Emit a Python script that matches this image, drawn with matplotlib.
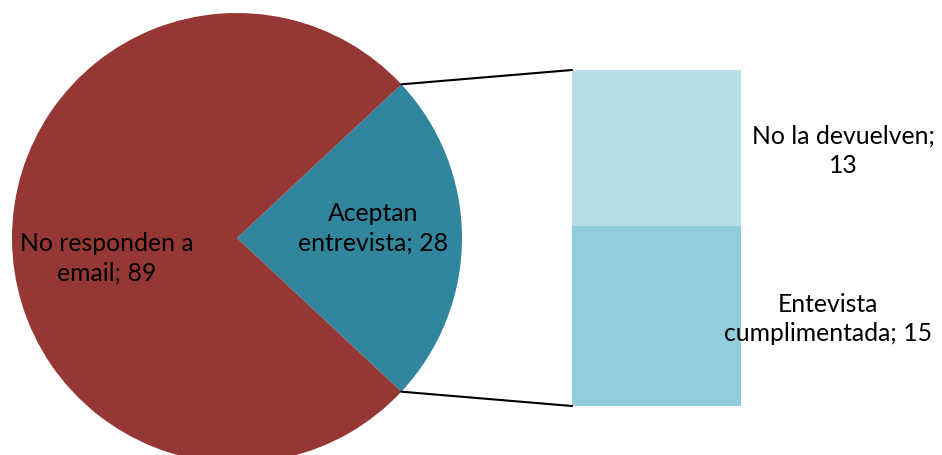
import matplotlib
matplotlib.use("Agg")
import matplotlib.pyplot as plt
from matplotlib.patches import ConnectionPatch
import numpy as np

plt.rcParams['font.family'] = ['Lato', 'DejaVu Sans']
fs = 17.8
ls = 1.35

# pie data
pie_labels = ['Aceptan\nentrevista; 28', 'No responden a\nemail; 89']
pie_values = [28, 89]
pie_colors = ['#31859C', '#953735']

# bar data (breakdown of "Aceptan entrevista")
bar_labels = ['Entevista\ncumplimentada; 15', 'No la devuelven;\n13']
bar_values = [15, 13]
bar_colors = ['#92CDDC', '#B7DEE8']

W, H = 942, 455
fig = plt.figure(figsize=(W / 100, H / 100), dpi=100)

# pie axes: square, 450px, centered at (237, 238) px from top-left
r_px = 225
cx, cy = 237, 238
ax1 = fig.add_axes([(cx - r_px) / W, (H - cy - r_px) / H, 2 * r_px / W, 2 * r_px / H])
half = 360 * pie_values[0] / sum(pie_values) / 2
wedges, _ = ax1.pie(pie_values, colors=pie_colors, startangle=-half, radius=1,
                    wedgeprops=dict(linewidth=0))
ax1.set_xlim(-1, 1)
ax1.set_ylim(-1, 1)
ax1.axis('off')
ax1.text(0.604, 0.044, pie_labels[0], ha='center', va='center', fontsize=fs, linespacing=ls)
ax1.text(-0.578, -0.089, pie_labels[1], ha='center', va='center', fontsize=fs, linespacing=ls)

# bar axes
bx0, bx1, by0, by1 = 572, 741, 70, 406
ax2 = fig.add_axes([bx0 / W, (H - by1) / H, (bx1 - bx0) / W, (by1 - by0) / H])
bottom = 0
for v, c in zip(bar_values, bar_colors):
    ax2.bar(0, v, width=1, bottom=bottom, color=c, linewidth=0)
    bottom += v
ax2.set_xlim(-0.5, 0.5)
ax2.set_ylim(0, sum(bar_values))
ax2.axis('off')
ax2.text(1.015, 7.25, bar_labels[0], ha='center', va='center', fontsize=fs,
         linespacing=ls, clip_on=False)
ax2.text(1.104, 21.25, bar_labels[1], ha='center', va='center', fontsize=fs,
         linespacing=ls, clip_on=False)

# connector lines
theta = np.deg2rad(half)
for sgn, yb in [(1, sum(bar_values)), (-1, 0)]:
    con = ConnectionPatch(xyA=(np.cos(theta), sgn * np.sin(theta)), coordsA=ax1.transData,
                          xyB=(-0.5, yb), coordsB=ax2.transData, color='black', linewidth=1.5)
    fig.add_artist(con)

fig.savefig('out.png', dpi=100)
